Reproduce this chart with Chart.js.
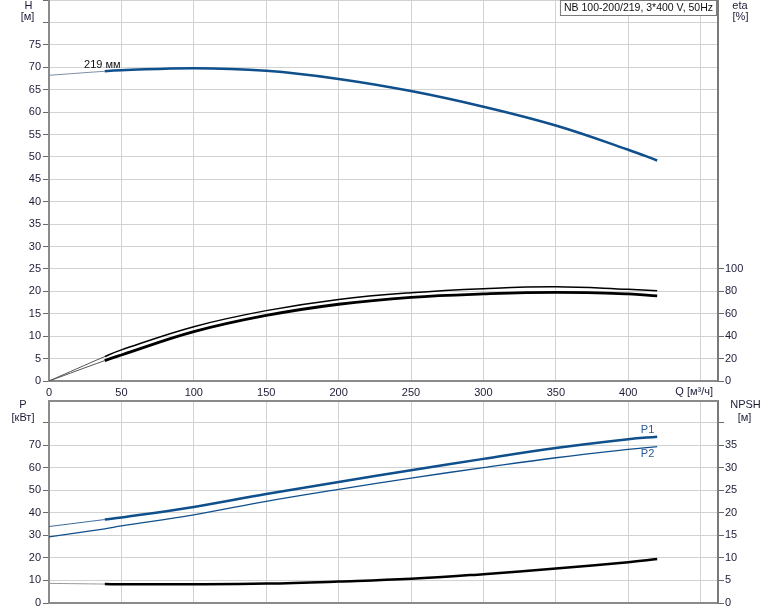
<!DOCTYPE html>
<html><head><meta charset="utf-8">
<script src="https://cdn.jsdelivr.net/npm/chart.js@4/dist/chart.umd.min.js"></script>
<style>
html,body{margin:0;padding:0;background:#fff;width:774px;height:611px;overflow:hidden}
#c1{position:absolute;left:0;top:0}
#c2{position:absolute;left:0;top:400px}
</style></head><body>
<canvas id="c1" width="774" height="400"></canvas>
<canvas id="c2" width="774" height="211"></canvas>
<script>
// ---- data ----
const flowQ    = [0, 38.5, 50, 100, 150, 200, 250, 300, 350, 400, 420];
const headH    = [68.2, 69.1, 69.3, 69.8, 69.2, 67.4, 64.7, 61.2, 57.0, 51.6, 49.2];
const etaUpper = [0, 21.8, 27.8, 48.5, 62.8, 72.8, 78.8, 82.4, 84.1, 81.8, 80.6];
const etaLower = [0, 18.2, 23.2, 44.0, 58.5, 68.5, 74.7, 77.7, 79.1, 77.7, 75.9];
const powerP1  = [33.9, 37.0, 37.9, 42.6, 48.3, 53.6, 58.9, 63.9, 68.7, 72.6, 73.7];
const powerP2  = [29.3, 32.9, 34.2, 39.1, 45.1, 50.4, 55.4, 60.0, 64.4, 68.1, 69.3];
const npshR    = [4.35, 4.2, 4.15, 4.15, 4.3, 4.75, 5.35, 6.4, 7.65, 9.05, 9.75];
const minFlow  = 38.5;

const qTicks    = [0, 50, 100, 150, 200, 250, 300, 350, 400, 450];
const qLabels   = ['0', '50', '100', '150', '200', '250', '300', '350', '400', ''];
const hTicks    = [0, 5, 10, 15, 20, 25, 30, 35, 40, 45, 50, 55, 60, 65, 70, 75, 80, 85];
const hLabelMax = 75;
const etaTicks  = [0, 20, 40, 60, 80, 100];
const pTicks    = [0, 10, 20, 30, 40, 50, 60, 70, 80];
const pLabelMax = 70;
const npshTicks = [0, 5, 10, 15, 20, 25, 30, 35, 40];
const npshLabelMax = 35;

const titleText = 'NB 100-200/219, 3*400 V, 50Hz';
const curveName = '219 мм';

// ---- styles ----
const FONT = {family: '"Liberation Sans", Arial, sans-serif', size: 11};
const TXT = '#1c1c38';
const GRID = '#d2d2d2';
const AXIS = '#8a8a8a';
const TICKC = '#6a6a6a';
const BLUE = '#0f4f8c';

function pts(ys){ return flowQ.map((q,i)=>({x:q, y:ys[i]})); }
function setTicks(arr){ return s => { s.ticks = arr.map(v=>({value:v})); }; }
function seg(thinW, thickW, thinC, thickC){
  return {
    borderWidth: c => c.p1.parsed.x <= minFlow + 0.01 ? thinW : thickW,
    borderColor: c => c.p1.parsed.x <= minFlow + 0.01 ? thinC : thickC
  };
}
function line(ys, axis, color, thinW, thickW, thinC){
  return {data: pts(ys), yAxisID: axis, borderColor: color, borderWidth: thickW,
    pointRadius: 0, fill: false, tension: 0.4, borderCapStyle: 'butt',
    segment: seg(thinW, thickW, thinC, color)};
}
function noPad(s){ s.paddingTop = 0; s.paddingBottom = 0; s.paddingLeft = 0; s.paddingRight = 0; }
function xScale(h, showLabels){
  return {type:'linear', min:0, max:462,
    afterBuildTicks: setTicks(qTicks),
    afterFit: s => { s.height = h; noPad(s); },
    grid:{color:GRID, lineWidth:1, drawTicks:false},
    border:{color:AXIS, width:2},
    ticks:{display:showLabels, color:TXT, font:FONT, padding:5, maxRotation:0, autoSkip:false,
      callback: (v, i) => qLabels[i]}};
}
function leftScale(max, ticks, labelMax){
  return {type:'linear', position:'left', min:0, max:max,
    afterBuildTicks: setTicks(ticks),
    afterFit: s => { s.width = 49; noPad(s); },
    grid:{color:GRID, lineWidth:1, tickLength:6, tickColor:TICKC},
    border:{color:AXIS, width:2},
    ticks:{color:TXT, font:FONT, padding:2, autoSkip:false,
      callback: v => v <= labelMax ? String(v) : ''}};
}
function rightScale(max, ticks, labelMax){
  return {type:'linear', position:'right', min:0, max:max,
    afterBuildTicks: setTicks(ticks),
    afterFit: s => { s.width = 56; noPad(s); },
    grid:{drawOnChartArea:false, tickLength:6, tickColor:TICKC},
    border:{color:'#7a7a7a', width:2},
    ticks:{color:TXT, font:FONT, padding:1, autoSkip:false,
      callback: v => v <= labelMax ? String(v) : ''}};
}
function txt(ctx, s, x, y, align, color, size){
  ctx.fillStyle = color || TXT; ctx.textAlign = align || 'center'; ctx.textBaseline = 'middle';
  ctx.font = (size || 11) + 'px "Liberation Sans", Arial, sans-serif';
  ctx.fillText(s, x, y);
}

const topPlugin = {id:'topText', afterDraw(chart){
  const ctx = chart.ctx, a = chart.chartArea, xs = chart.scales.x, ys = chart.scales.y;
  ctx.save();
  ctx.font = '10.5px "Liberation Sans", Arial, sans-serif';
  const w = ctx.measureText(titleText).width + 7;
  ctx.fillStyle = '#fff'; ctx.fillRect(a.right - 2 - w, 0.5, w, 15);
  ctx.strokeStyle = '#7a7a7a'; ctx.lineWidth = 1;
  ctx.strokeRect(a.right - 2 - w + 0.5, 0.5, w, 15);
  txt(ctx, titleText, a.right - 2 - w + 4, 8.5, 'left', '#111', 10.5);
  txt(ctx, 'H', 28.5, 5.5);
  txt(ctx, '[м]', 27.5, 17);
  txt(ctx, 'eta', 740, 5.5);
  txt(ctx, '[%]', 740.5, 16.5);
  txt(ctx, 'Q [м³/ч]', a.right - 5, 392, 'right');
  txt(ctx, curveName, xs.getPixelForValue(24.2), ys.getPixelForValue(70.4), 'left', '#111');
  ctx.restore();
}};

const botPlugin = {id:'botText', afterDraw(chart){
  const ctx = chart.ctx, a = chart.chartArea, xs = chart.scales.x, ys = chart.scales.y;
  ctx.save();
  ctx.strokeStyle = AXIS; ctx.lineWidth = 2;
  ctx.beginPath(); ctx.moveTo(a.left, a.top + 1); ctx.lineTo(a.right, a.top + 1); ctx.stroke();
  txt(ctx, 'P', 23, 4.5);
  txt(ctx, '[кВт]', 23, 18);
  txt(ctx, 'NPSH', 745.5, 4.5);
  txt(ctx, '[м]', 744.5, 17.5);
  txt(ctx, 'P1', xs.getPixelForValue(418), ys.getPixelForValue(76.5), 'right', '#2a5a94');
  txt(ctx, 'P2', xs.getPixelForValue(418), ys.getPixelForValue(66.0), 'right', '#2a5a94');
  ctx.restore();
}};

const common = {responsive:false, animation:false, layout:{padding:0},
  plugins:{legend:{display:false}, tooltip:{enabled:false}}};

new Chart(document.getElementById('c1'), {
  type:'line',
  data:{datasets:[
    line(headH, 'y', BLUE, 1, 2.5, '#7b8da6'),
    line(etaUpper, 'y2', '#000', 1, 1.5, '#555'),
    line(etaLower, 'y2', '#000', 1, 2.8, '#555')
  ]},
  options:Object.assign({}, common, {scales:{
    x: xScale(19, true),
    y: leftScale(85, hTicks, hLabelMax),
    y2: rightScale(340, etaTicks, 100)
  }}),
  plugins:[topPlugin]
});

new Chart(document.getElementById('c2'), {
  type:'line',
  data:{datasets:[
    line(powerP1, 'y', BLUE, 1, 2.5, '#3a6a9c'),
    line(powerP2, 'y', BLUE, 1.3, 1.3, BLUE),
    line(npshR, 'y2', '#000', 1, 2.5, '#999')
  ]},
  options:Object.assign({}, common, {scales:{
    x: xScale(8, false),
    y: leftScale(90, pTicks, pLabelMax),
    y2: rightScale(45, npshTicks, npshLabelMax)
  }}),
  plugins:[botPlugin]
});
</script>
</body></html>
